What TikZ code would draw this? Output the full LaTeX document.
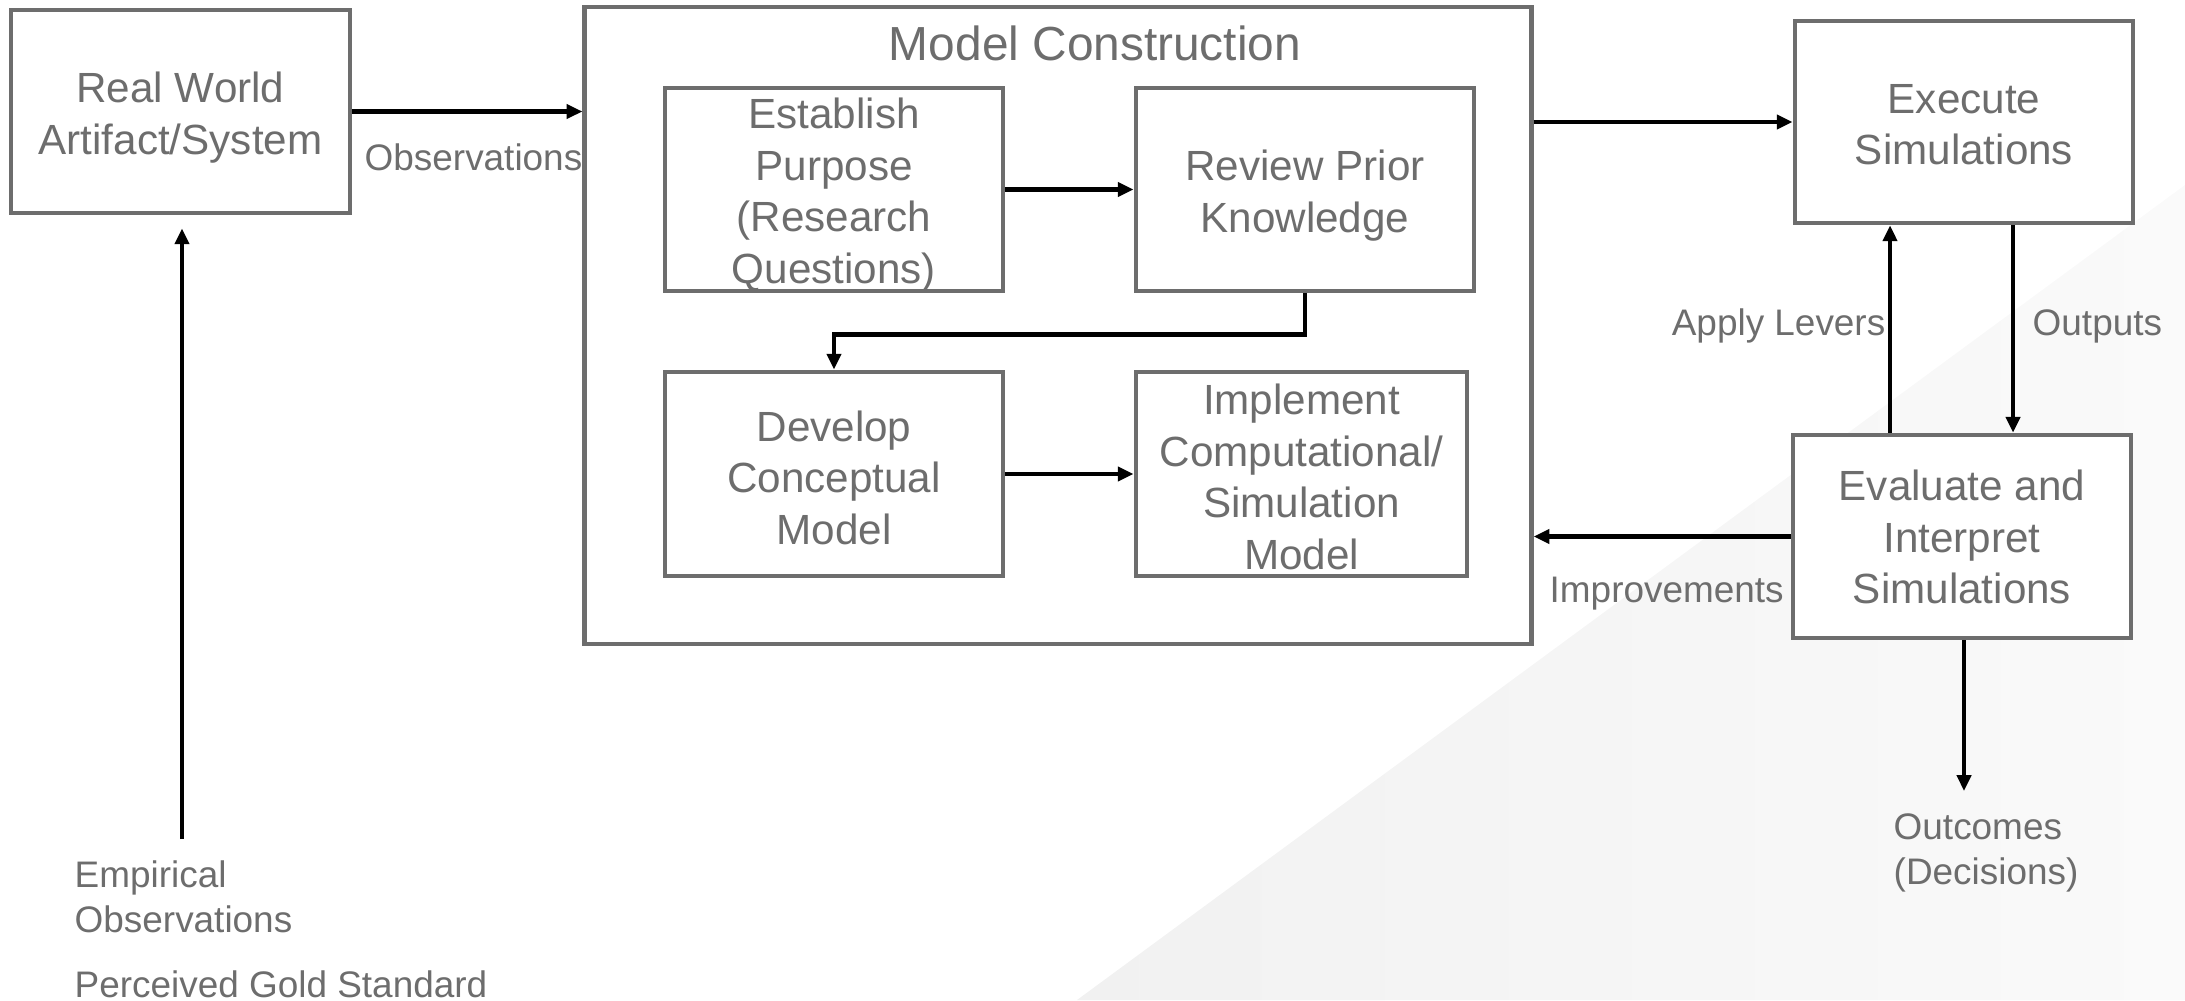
\documentclass[tikz,border=0pt]{standalone}
\usepackage{fontspec}
\setmainfont{Liberation Sans}
\usetikzlibrary{arrows.meta,calc}
\definecolor{tgray}{HTML}{6D6D6D}
\definecolor{bgA}{HTML}{F1F1F1}
\definecolor{bgB}{HTML}{FAFAFA}
\begin{document}
\begin{tikzpicture}[x=0.01cm,y=-0.01cm,
  box/.style={draw=tgray, line width=1.3pt, fill=white, inner sep=0pt},
  boxtext/.style={text=tgray, font=\fontsize{12}{14.65}\selectfont, align=center, inner sep=0pt},
  titletext/.style={text=tgray, font=\fontsize{13.6}{16}\selectfont, inner sep=0pt},
  lbl/.style={text=tgray, font=\fontsize{10.5}{12.8}\selectfont, inner sep=0pt},
  conn/.style={line width=1.25pt, draw=black, -{Triangle[length=4.5pt,width=4pt]}},
  plain/.style={line width=1.25pt, draw=black}
]
\useasboundingbox (0,0) rectangle (2185,1000);
% background decoration
\shade[left color=bgA, right color=bgB] (1077,1000) -- (2185,185) -- (2185,1000) -- cycle;

% boxes
\node[box, minimum width=3.39cm, minimum height=2.03cm] (rw) at (180.5,111.5) {};
\node[box, minimum width=9.46cm, minimum height=6.37cm] (mc) at (1058,325.5) {};
\node[box, minimum width=3.38cm, minimum height=2.03cm] (ep) at (834,189.5) {};
\node[box, minimum width=3.38cm, minimum height=2.03cm] (rp) at (1305,189.5) {};
\node[box, minimum width=3.38cm, minimum height=2.04cm] (dc) at (834,474) {};
\node[box, minimum width=3.31cm, minimum height=2.04cm] (im) at (1301.5,474) {};
\node[box, minimum width=3.38cm, minimum height=2.02cm] (ex) at (1964,122) {};
\node[box, minimum width=3.38cm, minimum height=2.03cm] (ev) at (1962,536.5) {};

% box texts
\node[boxtext] (rwt) at (180.5,117.8) {Real World\\Artifact/System};
\node[titletext] (mct) at (1095,43) {Model Construction};
\node[boxtext] (ept) at (834,195.3) {Establish\\Purpose\\(Research\\Questions)};
\node[boxtext] (rpt) at (1305,195.8) {Review Prior\\Knowledge};
\node[boxtext] (dct) at (834,477.5) {Develop\\Conceptual\\Model};
\node[boxtext] (imt) at (1301.5,476.9) {Implement\\Computational/\\Simulation\\Model};
\node[boxtext] (ext) at (1964,124.8) {Execute\\Simulations};
\node[boxtext] (evt) at (1962,537) {Evaluate and\\Interpret\\Simulations};

% labels
\node[lbl, anchor=west] (obs) at (364,157.5) {Observations};
\node[lbl, anchor=east] (lev) at (1886,326) {Apply Levers};
\node[lbl, anchor=west] (out) at (2032,326) {Outputs};
\node[lbl, anchor=west] (imp) at (1549,594) {Improvements};
\node[lbl, anchor=west, align=left] (oc) at (1893,853) {Outcomes\\(Decisions)};
\node[lbl, anchor=west, align=left] (emp) at (74,897) {Empirical\\Observations};
\node[lbl, anchor=west] (pgs) at (74,984) {Perceived Gold Standard};

% free ends
\coordinate (ea) at (182,839);
\coordinate (oe) at (1964,791);
\coordinate (alx) at (1890,0);
\coordinate (oux) at (2013,0);

% connectors
\draw[conn] (rw.east) -- (mc.west |- rw.east);
\draw[conn] (ea) -- (rw.south -| ea) [shorten >=3.7pt];
\draw[conn] (ep.east) -- (rp.west);
\draw[conn] (rp.south) -- ++(0,41) -| (dc.north);
\draw[conn] (dc.east) -- (im.west);
\draw[conn] (mc.east |- ex.west) -- (ex.west);
\draw[conn] (ev.north -| alx) -- (ex.south -| alx);
\draw[conn] (ex.south -| oux) -- (ev.north -| oux);
\draw[conn] (ev.west) -- (mc.east |- ev.west);
\draw[conn] (ev.south -| oe) -- (oe);
\end{tikzpicture}
\end{document}
